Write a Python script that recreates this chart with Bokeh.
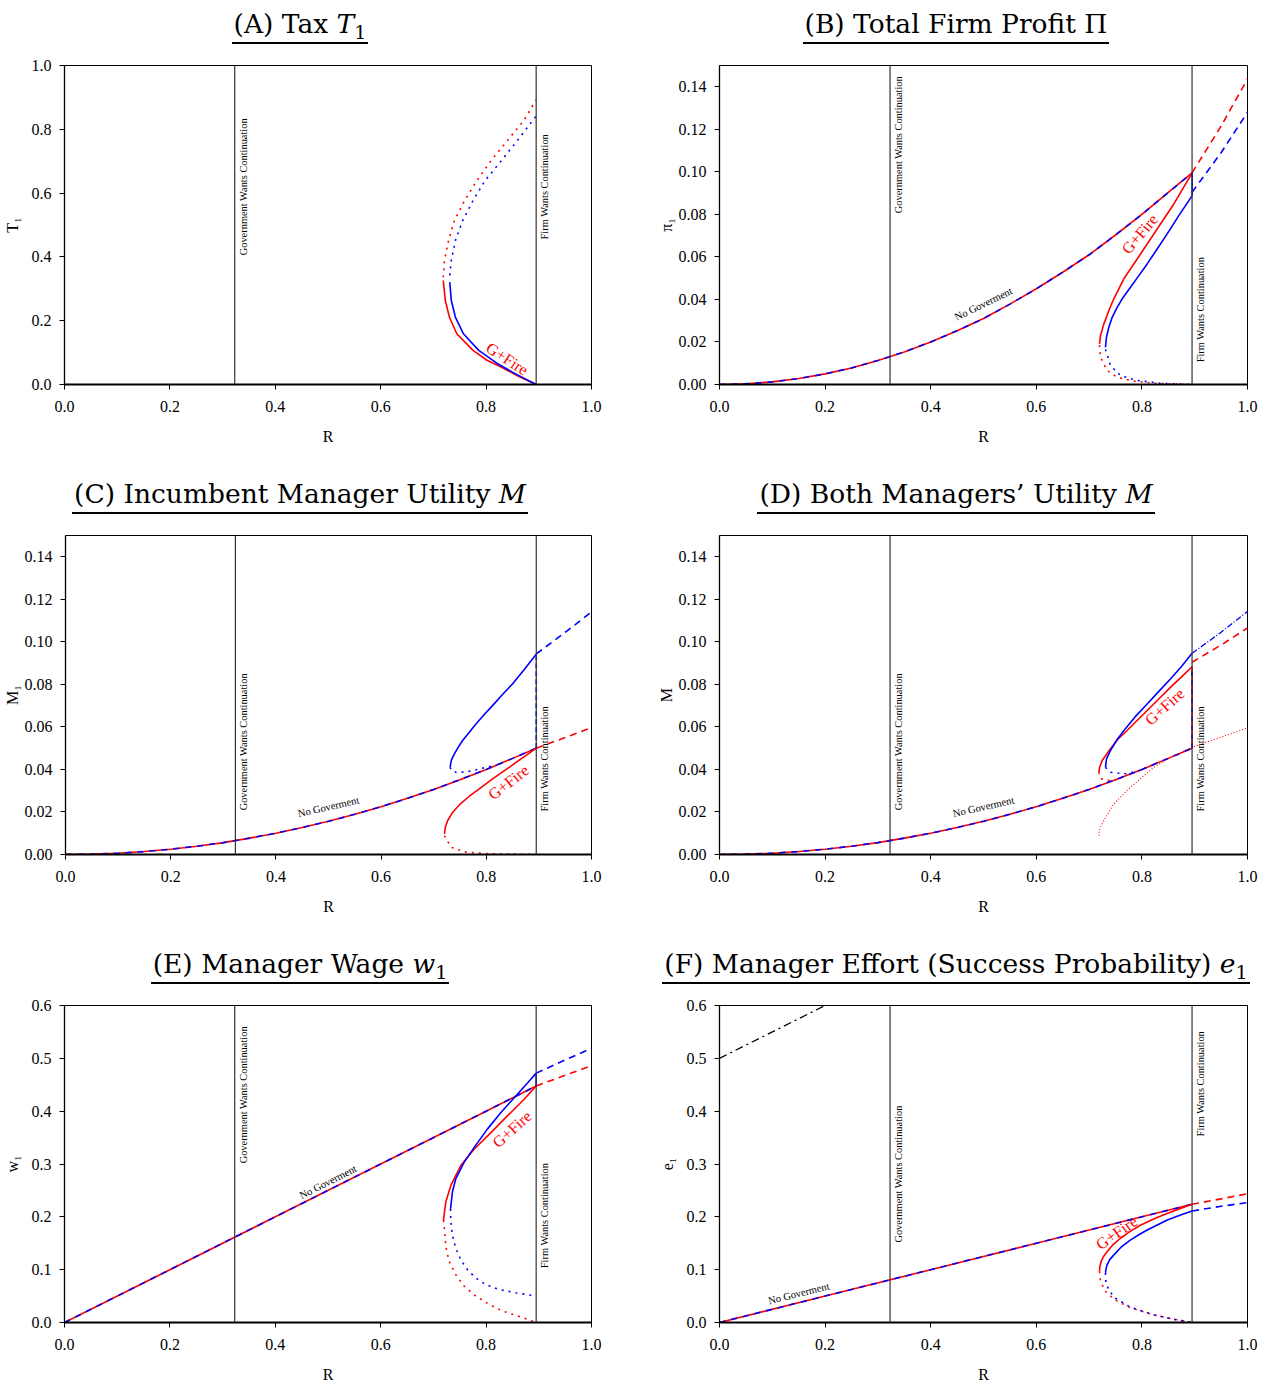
import math
from bokeh.plotting import figure
from bokeh.models import Range1d, Span, Div, FixedTicker, NumeralTickFormatter
from bokeh.layouts import column, row
from bokeh.embed import file_html
from bokeh.resources import INLINE
from bokeh.core.properties import value

# ---------------- data ----------------
gov_R = 0.323      # "Government Wants Continuation"
firm_R = 0.895     # "Firm Wants Continuation"

x_ticks = [0.0, 0.2, 0.4, 0.6, 0.8, 1.0]
yA_ticks = [0.0, 0.2, 0.4, 0.6, 0.8, 1.0]
yM_ticks = [0.0, 0.02, 0.04, 0.06, 0.08, 0.10, 0.12, 0.14]
yE_ticks = [0.0, 0.1, 0.2, 0.3, 0.4, 0.5, 0.6]

titles = {
    "A": "(A) Tax <i>T</i><sub>1</sub>",
    "B": "(B) Total Firm Profit &Pi;",
    "C": "(C) Incumbent Manager Utility <i>M</i>",
    "D": "(D) Both Managers&rsquo; Utility <i>M</i>",
    "E": "(E) Manager Wage <i>w</i><sub>1</sub>",
    "F": "(F) Manager Effort (Success Probability) <i>e</i><sub>1</sub>",
}
ylabels = {"A": "T\u2081", "B": "\u03c0\u2081", "C": "M\u2081", "D": "M", "E": "w\u2081", "F": "e\u2081"}

# (A) Tax
A_fire_red_R = [0.7187, 0.7226, 0.7303, 0.7444, 0.7752, 0.8016, 0.8286, 0.8632, 0.895]
A_fire_red_T = [0.326, 0.2635, 0.2115, 0.159, 0.107, 0.076, 0.055, 0.024, 0.0]
A_fire_blue_R = [0.731, 0.734, 0.7417, 0.757, 0.786, 0.821, 0.855, 0.895]
A_fire_blue_T = [0.321, 0.2635, 0.2115, 0.159, 0.107, 0.066, 0.034, 0.0]
A_up_red_R = [0.7187, 0.721, 0.7287, 0.740, 0.759, 0.7825, 0.809, 0.840, 0.871, 0.895]
A_up_red_T = [0.336, 0.389, 0.451, 0.514, 0.576, 0.639, 0.701, 0.764, 0.826, 0.892]
A_up_blue_R = [0.731, 0.734, 0.7417, 0.7556, 0.775, 0.798, 0.8286, 0.859, 0.895]
A_up_blue_T = [0.342, 0.389, 0.451, 0.514, 0.576, 0.639, 0.701, 0.764, 0.842]

# (B) Total firm profit
B_nogov_R = [0.0, 0.05, 0.1, 0.15, 0.2, 0.25, 0.3, 0.35, 0.4, 0.45, 0.5, 0.55, 0.6, 0.65,
             0.7, 0.75, 0.8, 0.85, 0.895]
B_nogov_P = [0.0, 0.0003, 0.00125, 0.0028, 0.005, 0.0078, 0.0113, 0.0153, 0.020, 0.0253,
             0.031, 0.0378, 0.045, 0.0528, 0.061, 0.0703, 0.080, 0.0903, 0.0995]
B_fire_red_R = [0.7197, 0.7216, 0.728, 0.7374, 0.7468, 0.7658, 0.791, 0.8289, 0.8605, 0.8952]
B_fire_red_P = [0.0191, 0.023, 0.0285, 0.0348, 0.0403, 0.0497, 0.059, 0.0731, 0.0849, 0.0995]
B_fire_blue_R = [0.731, 0.7329, 0.7374, 0.7437, 0.7532, 0.7626, 0.7784, 0.7942, 0.810, 0.8289,
                 0.8479, 0.8699, 0.8952, 0.8952]
B_fire_blue_P = [0.0175, 0.0222, 0.0269, 0.0316, 0.0363, 0.0403, 0.0457, 0.0512, 0.0567, 0.0637,
                 0.0708, 0.0794, 0.0888, 0.0995]
B_low_red_R = [0.7197, 0.7216, 0.734, 0.753, 0.785, 0.8225, 0.86, 0.895]
B_low_red_P = [0.0185, 0.0128, 0.0066, 0.0034, 0.0016, 0.0006, 0.0002, 0.0]
B_low_blue_R = [0.731, 0.7405, 0.7595, 0.791, 0.835, 0.895]
B_low_blue_P = [0.0165, 0.0089, 0.0042, 0.0019, 0.0006, 0.0]
B_cont_red_R = [0.895, 0.95, 1.0]
B_cont_red_P = [0.0995, 0.1215, 0.1437]
B_cont_blue_R = [0.895, 0.95, 1.0]
B_cont_blue_P = [0.0904, 0.109, 0.128]

# (C) Incumbent manager utility
C_nogov_R = [0.0, 0.05, 0.1, 0.15, 0.2, 0.25, 0.3, 0.35, 0.4, 0.45, 0.5, 0.55, 0.6, 0.65,
             0.7, 0.75, 0.8, 0.85, 0.895]
C_nogov_M = [0.0, 0.00016, 0.0006, 0.0014, 0.0025, 0.0039, 0.0056, 0.0077, 0.010, 0.0127,
             0.0156, 0.0189, 0.0225, 0.0264, 0.0306, 0.0352, 0.040, 0.0452, 0.050]
C_fire_blue_R = [0.7311, 0.7336, 0.7393, 0.7468, 0.755, 0.7677, 0.7803, 0.7961, 0.8119,
                 0.8308, 0.8497, 0.8718, 0.8952]
C_fire_blue_M = [0.041, 0.0444, 0.0473, 0.0505, 0.0536, 0.0575, 0.0614, 0.0658, 0.070,
                 0.0752, 0.0802, 0.0869, 0.0943]
C_dot_blue_R = [0.731, 0.735, 0.745, 0.76, 0.78, 0.80, 0.82]
C_dot_blue_M = [0.041, 0.0392, 0.0385, 0.0388, 0.0398, 0.041, 0.042]
C_fire_red_R = [0.7203, 0.7222, 0.7266, 0.7361, 0.7487, 0.7677, 0.7866, 0.8119, 0.8434,
                0.875, 0.8952]
C_fire_red_M = [0.0097, 0.0128, 0.016, 0.0199, 0.0233, 0.0274, 0.0309, 0.0356, 0.041,
                0.0465, 0.050]
C_low_red_R = [0.7203, 0.733, 0.761, 0.812, 0.895]
C_low_red_M = [0.0089, 0.0034, 0.0011, 0.0003, 0.0]
C_jump_R = [0.895, 0.895]
C_jump_M = [0.050, 0.0943]
C_cont_blue_R = [0.895, 0.95, 1.0]
C_cont_blue_M = [0.0943, 0.1045, 0.114]
C_cont_red_R = [0.895, 0.95, 1.0]
C_cont_red_M = [0.050, 0.055, 0.0597]

# (D) Both managers' utility
D_nogov_R = [0.0, 0.05, 0.1, 0.15, 0.2, 0.25, 0.3, 0.35, 0.4, 0.45, 0.5, 0.55, 0.6, 0.65,
             0.7, 0.75, 0.8, 0.85, 0.895]
D_nogov_M = [0.0, 0.00016, 0.0006, 0.0014, 0.0025, 0.0039, 0.0056, 0.0077, 0.010, 0.0127,
             0.0156, 0.0189, 0.0225, 0.0264, 0.0306, 0.0352, 0.040, 0.0452, 0.050]
D_fire_blue_R = [0.731, 0.733, 0.7405, 0.752, 0.766, 0.787, 0.81, 0.832, 0.854, 0.875, 0.895]
D_fire_blue_M = [0.041, 0.045, 0.0489, 0.0537, 0.0583, 0.0647, 0.0708, 0.0767, 0.0825,
                 0.0884, 0.0946]
D_fire_red_R = [0.7184, 0.720, 0.7248, 0.7405, 0.755, 0.772, 0.79, 0.81, 0.832, 0.854,
                0.875, 0.895]
D_fire_red_M = [0.0387, 0.041, 0.0442, 0.0497, 0.0543, 0.0583, 0.0628, 0.0677, 0.0731,
                0.0786, 0.0835, 0.0883]
D_jump_R = [0.895, 0.895]
D_jump_M = [0.050, 0.0883]
D_dot_blue_R = [0.731, 0.7405, 0.766, 0.79, 0.81]
D_dot_blue_M = [0.041, 0.0387, 0.0379, 0.039, 0.041]
D_dot_red_R = [0.7184, 0.7216, 0.735, 0.75]
D_dot_red_M = [0.0387, 0.0357, 0.0348, 0.0352]
D_inc_R = [0.7184, 0.72, 0.728, 0.7468, 0.778, 0.8225, 0.8605, 0.895, 0.936, 1.0]
D_inc_M = [0.0089, 0.012, 0.016, 0.0238, 0.0316, 0.041, 0.0465, 0.0504, 0.054, 0.0595]
D_cont_blue_R = [0.895, 0.95, 1.0]
D_cont_blue_M = [0.0946, 0.1045, 0.1143]
D_cont_red_R = [0.895, 0.95, 1.0]
D_cont_red_M = [0.0904, 0.0985, 0.1065]

# (E) Manager wage
E_nogov_R = [0.0, 0.2, 0.4, 0.6, 0.8, 0.895]
E_nogov_w = [0.0, 0.1, 0.2, 0.3, 0.4, 0.4475]
E_fire_blue_R = [0.7325, 0.7361, 0.7424, 0.7582, 0.7771, 0.8024, 0.8277, 0.8529, 0.8782, 0.895]
E_fire_blue_w = [0.215, 0.247, 0.272, 0.303, 0.331, 0.366, 0.397, 0.425, 0.453, 0.472]
E_fire_red_R = [0.7191, 0.7235, 0.733, 0.7519, 0.7771, 0.8087, 0.8403, 0.8718, 0.895]
E_fire_red_w = [0.1937, 0.228, 0.259, 0.297, 0.328, 0.359, 0.391, 0.422, 0.4475]
E_low_red_R = [0.7191, 0.7203, 0.7235, 0.7298, 0.7424, 0.7582, 0.7803, 0.8056, 0.8308,
               0.8687, 0.8952]
E_low_red_w = [0.1937, 0.1844, 0.1438, 0.1156, 0.0906, 0.0688, 0.05, 0.0344, 0.0219,
               0.0094, 0.0]
E_low_blue_R = [0.7325, 0.733, 0.7361, 0.7424, 0.7519, 0.7645, 0.7803, 0.7992, 0.8245,
                0.8561, 0.8952]
E_low_blue_w = [0.215, 0.1906, 0.1656, 0.1406, 0.1188, 0.10, 0.0844, 0.0719, 0.0625,
                0.0563, 0.050]
E_jump_R = [0.895, 0.895]
E_jump_w = [0.4475, 0.472]
E_cont_blue_R = [0.895, 0.95, 1.0]
E_cont_blue_w = [0.472, 0.497, 0.519]
E_cont_red_R = [0.895, 0.95, 1.0]
E_cont_red_w = [0.4475, 0.468, 0.486]

# (F) Manager effort
F_nogov_R = [0.0, 0.2, 0.4, 0.6, 0.8, 0.895]
F_nogov_e = [0.0, 0.05, 0.1, 0.15, 0.2, 0.2237]
F_fire_blue_R = [0.731, 0.732, 0.734, 0.739, 0.747, 0.76, 0.778, 0.795, 0.81, 0.83, 0.848,
                 0.872, 0.895]
F_fire_blue_e = [0.0938, 0.101, 0.109, 0.119, 0.128, 0.142, 0.156, 0.1665, 0.175, 0.185,
                 0.194, 0.203, 0.211]
F_fire_red_R = [0.7197, 0.7205, 0.723, 0.728, 0.734, 0.745, 0.759, 0.777, 0.797, 0.82,
                0.8415, 0.868, 0.895]
F_fire_red_e = [0.097, 0.106, 0.116, 0.126, 0.134, 0.147, 0.159, 0.172, 0.184, 0.195,
                0.204, 0.214, 0.2237]
F_low_red_R = [0.7197, 0.7216, 0.731, 0.747, 0.778, 0.8225, 0.8605, 0.892]
F_low_red_e = [0.097, 0.078, 0.059, 0.044, 0.028, 0.0144, 0.0062, 0.001]
F_low_blue_R = [0.731, 0.732, 0.738, 0.75, 0.778, 0.8225, 0.8605, 0.895]
F_low_blue_e = [0.0938, 0.075, 0.06, 0.046, 0.029, 0.0145, 0.006, 0.0]
F_cont_red_R = [0.895, 0.95, 1.0]
F_cont_red_e = [0.2237, 0.234, 0.2437]
F_cont_blue_R = [0.895, 0.95, 1.0]
F_cont_blue_e = [0.211, 0.220, 0.227]
F_bench_R = [0.0, 0.2]
F_bench_e = [0.5, 0.6]

# annotation positions: (R, y, angle in degrees)
gfire_pos = {"A": (0.840, 0.081, -33), "B": (0.796, 0.0708, 50), "C": (0.842, 0.034, 38),
             "D": (0.843, 0.0695, 42), "E": (0.849, 0.366, 42), "F": (0.752, 0.170, 35)}
nogov_pos = {"B": (0.50, 0.0379, 26), "C": (0.50, 0.0224, 13), "D": (0.50, 0.0224, 13),
             "E": (0.50, 0.266, 27), "F": (0.15, 0.055, 14)}
gov_text_y = {"A": 0.62, "B": 0.1128, "C": 0.053, "D": 0.053, "E": 0.431, "F": 0.281}
firm_text_y = {"A": 0.62, "B": 0.0352, "C": 0.045, "D": 0.045, "E": 0.2025, "F": 0.452}

# ---------------- styling ----------------
RED = "#ff0000"
BLUE = "#0000ff"
SERIF = "Liberation Serif"
TITLE_FONT = "DejaVu Serif"
DIV_H = 45
LEFT_W, RIGHT_W = 644, 628


def ln(p, xs, ys, color, dash="solid", width=1.6):
    p.line(xs, ys, line_color=color, line_width=width, line_dash=dash)


def nogov(p, xs, ys):
    ln(p, xs, ys, RED)
    ln(p, xs, ys, BLUE, "6 6")


def make_panel(key, left, yrange, yticks, fmt, ylabel_standoff, fig_h):
    w = LEFT_W if left else RIGHT_W
    p = figure(width=w, height=fig_h, output_backend="svg", toolbar_location=None,
               x_range=Range1d(0, 1), y_range=Range1d(*yrange),
               min_border_left=63 if left else 75, min_border_right=53 if left else 25,
               min_border_top=20, min_border_bottom=fig_h - 20 - 319, margin=0)
    p.xgrid.visible = False
    p.ygrid.visible = False
    p.outline_line_color = "black"
    p.outline_line_width = 1
    p.background_fill_color = "white"
    p.border_fill_color = "white"
    p.xaxis.ticker = FixedTicker(ticks=x_ticks)
    p.yaxis.ticker = FixedTicker(ticks=yticks)
    p.xaxis.formatter = NumeralTickFormatter(format="0.0")
    p.yaxis.formatter = NumeralTickFormatter(format=fmt)
    p.xaxis.axis_label = "R"
    p.yaxis.axis_label = ylabels[key]
    for ax in (p.xaxis[0], p.yaxis[0]):
        ax.major_label_text_font = SERIF
        ax.major_label_text_font_size = "16px"
        ax.major_label_text_color = "black"
        ax.axis_label_text_font = SERIF
        ax.axis_label_text_font_size = "16px"
        ax.axis_label_text_font_style = "normal"
        ax.axis_label_text_color = "black"
        ax.major_tick_out = 5
        ax.major_tick_in = 0
        ax.minor_tick_out = 0
        ax.minor_tick_in = 0
        ax.axis_line_color = "black"
        ax.major_tick_line_color = "black"
    p.xaxis.axis_line_width = 2
    p.yaxis.axis_line_width = 1.3
    p.xaxis.major_label_standoff = 11
    p.xaxis.axis_label_standoff = 13
    p.yaxis.major_label_standoff = 8
    p.yaxis.axis_label_standoff = ylabel_standoff

    p.add_layout(Span(location=gov_R, dimension="height", line_color="#333333", line_width=1.2))
    p.add_layout(Span(location=firm_R, dimension="height", line_color="#333333", line_width=1.2))
    p.text(x=[gov_R + 0.016, firm_R + 0.016], y=[gov_text_y[key], firm_text_y[key]],
           text=["Government Wants Continuation", "Firm Wants Continuation"],
           angle=math.pi / 2, text_font=value(SERIF), text_font_size="10.4px",
           text_align="center", text_baseline="middle", text_color="black")

    title_w = 600 if left else 624
    html = ('<div style="width:%dpx;text-align:center;padding-top:10px;'
            'font-family:\'%s\';font-size:26.5px;line-height:1.05;color:#000;">'
            '<span style="display:inline-block;border-bottom:2px solid #000;padding:0 2px 4px 2px;">%s</span>'
            '</div>') % (title_w, TITLE_FONT, titles[key].replace(
                "<sub>", '<sub style="font-size:0.72em;vertical-align:-0.3em;line-height:0;">'))
    div = Div(text=html, width=w, height=DIV_H, margin=0)
    return div, p


def add_labels(p, key):
    gx, gy, ga = gfire_pos[key]
    p.text(x=[gx], y=[gy], text=["G+Fire"], angle=math.radians(ga), text_font=value(SERIF),
           text_font_size="16px", text_align="center", text_baseline="middle", text_color=RED)
    if key in nogov_pos:
        nx, ny, na = nogov_pos[key]
        p.text(x=[nx], y=[ny], text=["No Goverment"], angle=math.radians(na), text_font=value(SERIF),
               text_font_size="10.5px", text_align="center", text_baseline="middle", text_color="black")


DOT = "2 5"
DASH = "7 5"
H12 = 425   # rows 1 and 2
H3 = 400    # row 3

# ---- A ----
dA, pA = make_panel("A", True, (0, 1.0), yA_ticks, "0.0", 8, H12)
ln(pA, A_up_red_R, A_up_red_T, RED, DOT)
ln(pA, A_up_blue_R, A_up_blue_T, BLUE, DOT)
ln(pA, A_fire_red_R, A_fire_red_T, RED)
ln(pA, A_fire_blue_R, A_fire_blue_T, BLUE)
add_labels(pA, "A")

# ---- B ----
dB, pB = make_panel("B", False, (0, 0.15), yM_ticks, "0.00", 1, H12)
nogov(pB, B_nogov_R, B_nogov_P)
ln(pB, B_low_red_R, B_low_red_P, RED, DOT)
ln(pB, B_low_blue_R, B_low_blue_P, BLUE, DOT)
ln(pB, B_fire_red_R, B_fire_red_P, RED)
ln(pB, B_fire_blue_R, B_fire_blue_P, BLUE)
ln(pB, B_cont_red_R, B_cont_red_P, RED, DASH)
ln(pB, B_cont_blue_R, B_cont_blue_P, BLUE, DASH)
add_labels(pB, "B")

# ---- C ----
dC, pC = make_panel("C", True, (0, 0.15), yM_ticks, "0.00", 1, H12)
nogov(pC, C_nogov_R, C_nogov_M)
ln(pC, C_dot_blue_R, C_dot_blue_M, BLUE, DOT)
ln(pC, C_low_red_R, C_low_red_M, RED, DOT)
ln(pC, C_fire_red_R, C_fire_red_M, RED)
ln(pC, C_fire_blue_R, C_fire_blue_M, BLUE)
ln(pC, C_jump_R, C_jump_M, BLUE, "5 3")
ln(pC, C_cont_blue_R, C_cont_blue_M, BLUE, DASH)
ln(pC, C_cont_red_R, C_cont_red_M, RED, DASH)
add_labels(pC, "C")

# ---- D ----
dD, pD = make_panel("D", False, (0, 0.15), yM_ticks, "0.00", 1, H12)
nogov(pD, D_nogov_R, D_nogov_M)
ln(pD, D_inc_R, D_inc_M, RED, "1 2", 1.1)
ln(pD, D_dot_blue_R, D_dot_blue_M, BLUE, DOT)
ln(pD, D_dot_red_R, D_dot_red_M, RED, DOT)
ln(pD, D_fire_red_R, D_fire_red_M, RED)
ln(pD, D_fire_blue_R, D_fire_blue_M, BLUE)
ln(pD, D_jump_R, D_jump_M, RED)
ln(pD, D_jump_R, D_jump_M, BLUE, "5 4")
ln(pD, D_cont_red_R, D_cont_red_M, RED, DASH)
ln(pD, D_cont_blue_R, D_cont_blue_M, BLUE, "6 2 1 2", 1.3)
add_labels(pD, "D")

# ---- E ----
dE, pE = make_panel("E", True, (0, 0.6), yE_ticks, "0.0", 8, H3)
nogov(pE, E_nogov_R, E_nogov_w)
ln(pE, E_low_red_R, E_low_red_w, RED, DOT)
ln(pE, E_low_blue_R, E_low_blue_w, BLUE, DOT)
ln(pE, E_fire_red_R, E_fire_red_w, RED)
ln(pE, E_fire_blue_R, E_fire_blue_w, BLUE)
ln(pE, E_jump_R, E_jump_w, BLUE)
ln(pE, E_cont_red_R, E_cont_red_w, RED, DASH)
ln(pE, E_cont_blue_R, E_cont_blue_w, BLUE, DASH)
add_labels(pE, "E")

# ---- F ----
dF, pF = make_panel("F", False, (0, 0.6), yE_ticks, "0.0", 8, H3)
nogov(pF, F_nogov_R, F_nogov_e)
ln(pF, F_low_red_R, F_low_red_e, RED, DOT)
ln(pF, F_low_blue_R, F_low_blue_e, BLUE, DOT)
ln(pF, F_fire_red_R, F_fire_red_e, RED)
ln(pF, F_fire_blue_R, F_fire_blue_e, BLUE)
ln(pF, F_cont_red_R, F_cont_red_e, RED, DASH)
ln(pF, F_cont_blue_R, F_cont_blue_e, BLUE, DASH)
ln(pF, F_bench_R, F_bench_e, "black", "8 4 2 4", 1.3)
add_labels(pF, "F")

layout = column(
    row(column(dA, pA, spacing=0), column(dB, pB, spacing=0), spacing=0),
    row(column(dC, pC, spacing=0), column(dD, pD, spacing=0), spacing=0),
    row(column(dE, pE, spacing=0), column(dF, pF, spacing=0), spacing=0),
    spacing=0,
)

with open("out.html", "w") as f:
    f.write(file_html(layout, INLINE, title="Figure"))
